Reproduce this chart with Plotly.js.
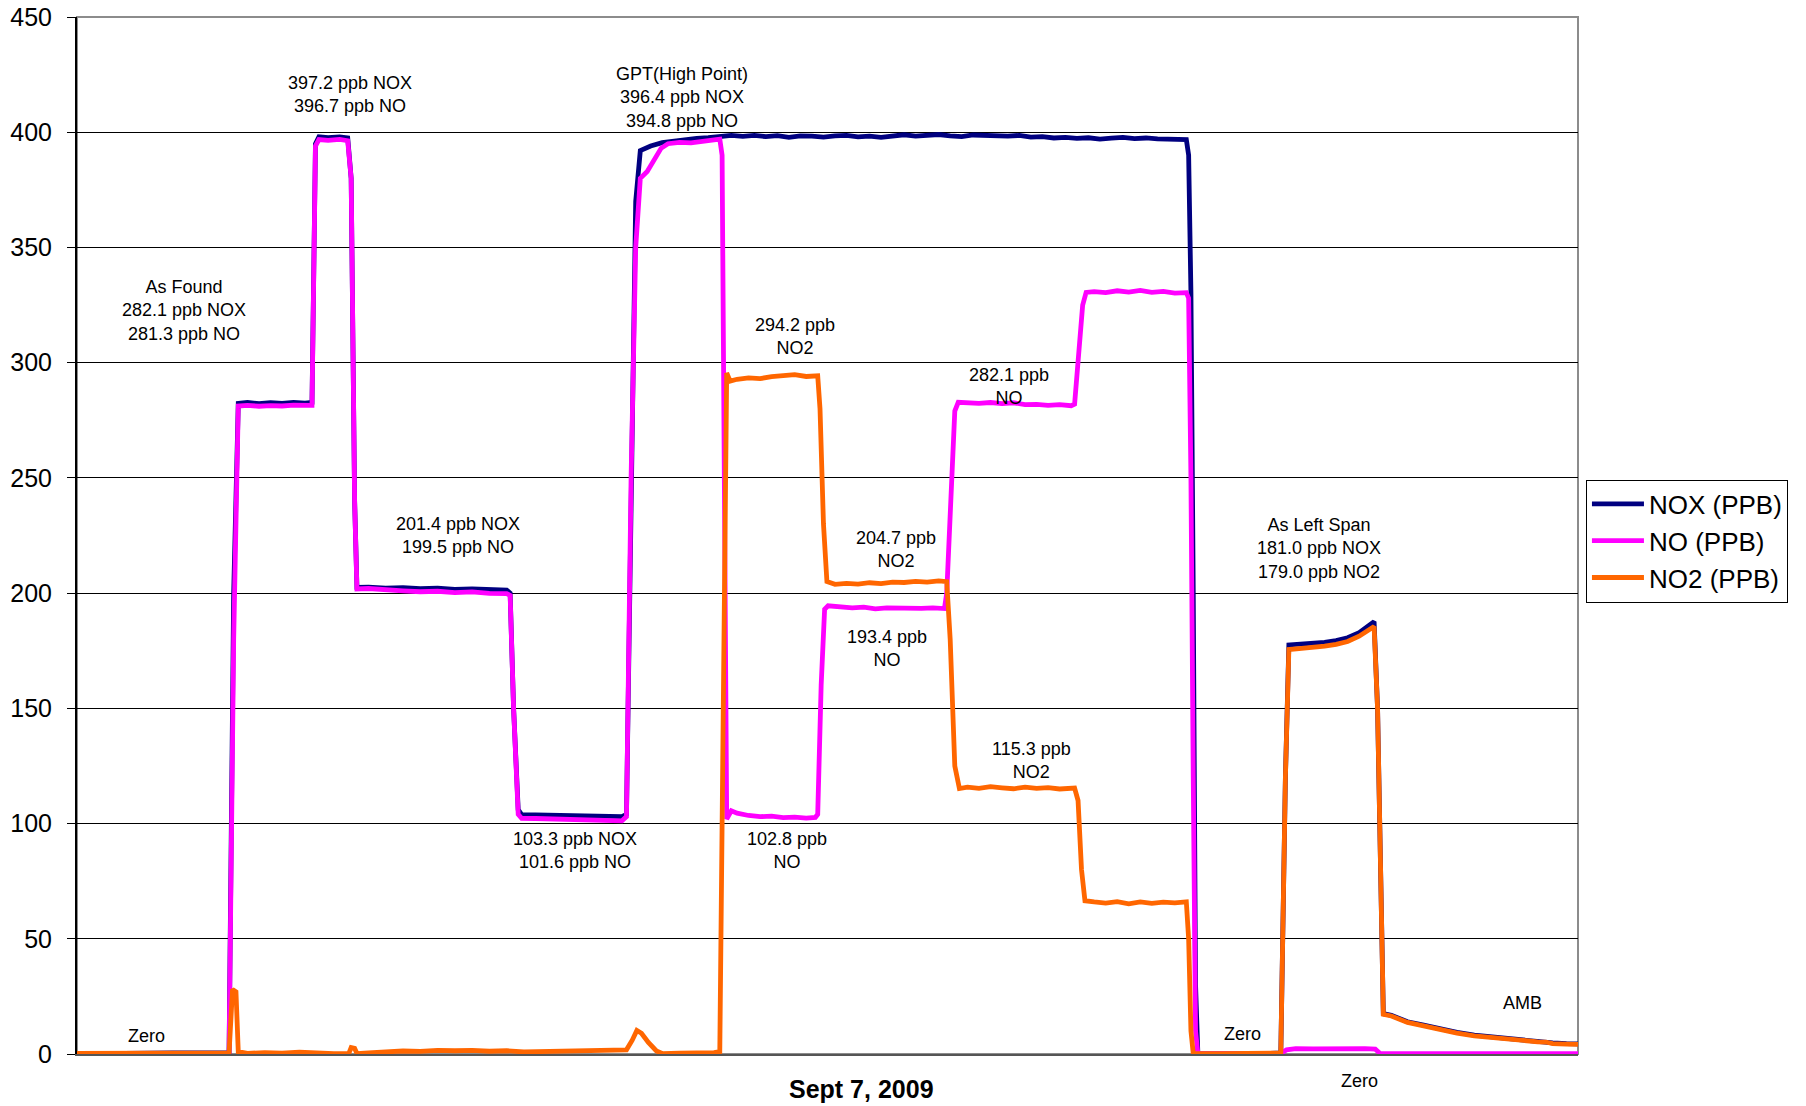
<!DOCTYPE html>
<html>
<head>
<meta charset="utf-8">
<script src="https://cdn.plot.ly/plotly-3.0.1.min.js"></script>
<style>html,body{margin:0;padding:0;background:#fff;}#chart{width:1806px;height:1106px;}</style>
</head>
<body>
<div id="chart"></div>
<script>
// Time axis in arbitrary sample units (no tick labels on the original)
const timeNOX = [67,100,150,199,203,207,215,225,235,245,255,265,271,274,277,285,295,302,305,308,310,320,335,350,365,380,395,410,425,440,443,446,450,453,465,480,495,510,525,540,544,548,552,556,565,575,585,595,605,615,625,635,645,655,665,675,685,695,705,715,725,735,745,755,765,775,785,795,805,815,825,835,845,855,865,875,885,895,905,915,925,935,945,955,965,975,985,995,1005,1015,1025,1030,1032,1033,1034,1036,1038,1040,1060,1080,1100,1112,1116,1119,1130,1140,1150,1160,1170,1180,1188,1193,1196,1199,1201,1208,1215,1222,1235,1250,1265,1280,1295,1310,1325,1335,1342,1348,1360,1370];
const noxPPB = [0,0.3,0.5,0.6,200,282.3,282.8,282.2,282.6,282.3,282.7,282.4,282.8,395,398,397.6,398,397.5,380,240,202.5,202.6,202.2,202.4,201.9,202.1,201.6,201.8,201.4,201.3,200,150,106,103.9,103.8,103.6,103.7,103.3,103.4,103,104,250,370,392,394,395.5,396.2,397,397.3,397.6,398,398.6,398.2,398.6,398.1,398.5,397.8,398.4,398.3,397.9,398.4,398.6,398,398.3,397.8,398.6,398.9,398.3,398.7,399,398.4,398.1,398.8,398.5,398.7,398.3,398.6,397.9,398.1,397.5,397.8,397.3,397.6,397,397.4,397.8,397.2,397.5,397.1,396.8,397,396.8,390,370,330,200,30,0.3,0.2,0.3,0.2,0.5,120,177.5,177.8,178,178.6,179.4,180.6,182.8,185.5,187.6,150,60,17.5,16.8,15.6,14,12.6,10.9,9.4,8.2,7.4,6.6,6,5.6,5.4,4.8,4.5,4.4];

const timeNO = [67,199,203,207,215,225,235,245,255,265,271,274,277,285,295,302,305,308,310,320,335,350,365,380,395,410,425,440,443,446,450,453,465,480,495,510,525,540,544,548,552,556,562,568,574,580,590,600,610,620,625,627,629,631,635,640,650,660,670,680,690,700,708,710,713,716,719,730,740,750,760,770,780,790,800,810,820,822,826,829,832,840,850,860,870,880,890,900,910,920,930,933,936,940,943,950,960,970,980,990,1000,1010,1020,1030,1032,1034,1036,1038,1040,1080,1112,1117,1125,1140,1155,1170,1185,1194,1198,1250,1370];
const noPPB = [0,0.3,180,281.2,281.5,281.1,281.4,281.2,281.6,281.3,281.5,394,396.8,396.5,396.9,396.3,380,240,201.8,202,201.3,201,200.6,200.8,200.2,200.5,199.9,199.8,199,150,104,102.3,102.2,102,101.8,101.6,101.5,101.2,103,250,350,380,383,388,393,395,395.6,395.4,396.2,396.6,397,390,250,102,105.5,104.5,103.5,103,103.2,102.6,102.8,102.4,102.7,104,160,193,194.5,194,193.6,193.9,193.2,193.6,193.4,193.7,193.4,193.6,193.3,200,250,279,282.8,282.5,282.3,282.7,282.2,282.6,281.8,281.9,281.5,281.8,281.3,282,300,325,330.5,330.8,330.4,331.2,330.6,331.4,330.5,330.9,330.2,330.4,328,250,120,10,0.2,0.2,0.3,1.8,2.3,2.2,2.4,2.2,2.3,2.1,0.3,0.2,0.2];

const timeNO2 = [67,120,180,199,202,205,207,215,230,245,260,275,290,303,305,308,310,320,335,350,365,380,395,410,425,440,455,470,485,500,515,530,544,549,553,557,563,570,575,590,605,620,625,628,631,634,640,650,660,670,680,690,700,710,712,715,718,725,735,745,755,765,775,785,795,805,815,822,825,829,833,840,850,860,870,880,890,900,910,920,933,936,939,942,950,960,970,980,990,1000,1010,1020,1030,1032,1034,1036,1060,1090,1112,1116,1119,1130,1140,1150,1160,1170,1180,1188,1193,1196,1199,1201,1208,1215,1222,1235,1250,1265,1280,1295,1310,1325,1335,1342,1348,1360,1370];
const no2PPB = [0.3,0.4,0.3,0.5,28,27,1,0.3,0.6,0.4,0.8,0.2,0.1,0.3,2.8,2.5,0.2,0.5,1,1.3,1.1,1.6,1.4,1.6,1.2,1.4,0.9,1,1.3,1.2,1.4,1.5,1.8,6,10.2,9,5,1.3,0.2,0.4,0.3,0.6,1,150,295.5,292,292.8,293.4,293.1,293.9,294.2,294.8,294,294.3,280,230,205,203.8,204.2,203.9,204.5,204.1,204.8,204.6,205.1,204.8,205.3,205,180,125,115.2,115.8,115.3,116,115.5,115.1,115.8,115.3,115.6,115,115.4,110,80,66.5,66,65.5,66.1,65.2,66,65.4,65.9,65.6,66,50,10,0.2,0.2,0.3,0.4,120,175.5,176,176.3,177,177.8,179,181.3,183.8,185.5,150,60,17.2,16.5,15.3,13.7,12.3,10.6,9.1,7.9,7.1,6.3,5.7,5.3,5.2,4.5,4.3,4.2];

const seriesNames = ["NOX (PPB)", "NO (PPB)", "NO2 (PPB)"];
const yTickVals = [0,50,100,150,200,250,300,350,400,450];
const yTickText = ["0","50","100","150","200","250","300","350","400","450"];
const xTitle = "Sept 7, 2009";

// Annotation texts and their anchor points (time units, ppb)
const noteText = [
  "As Found<br>282.1 ppb NOX<br>281.3 ppb NO",
  "397.2 ppb NOX<br>396.7 ppb NO",
  "GPT(High Point)<br>396.4 ppb NOX<br>394.8 ppb NO",
  "294.2 ppb<br>NO2",
  "201.4 ppb NOX<br>199.5 ppb NO",
  "282.1 ppb<br>NO",
  "204.7 ppb<br>NO2",
  "193.4 ppb<br>NO",
  "103.3 ppb NOX<br>101.6 ppb NO",
  "102.8 ppb<br>NO",
  "115.3 ppb<br>NO2",
  "As Left Span<br>181.0 ppb NOX<br>179.0 ppb NO2",
  "Zero",
  "Zero",
  "AMB"
];
const noteTime = [160,304,592,690,398,876,778,770,499,683,896,1145,127,1079,1322];
const notePPB = [322.5,416.2,415,311.5,224.8,289.8,219,175.8,88.2,88.2,127.2,219.5,8,8.5,22];

const FONT = "Arial, 'Liberation Sans', sans-serif";
const colors = ["#000080", "#FF00FF", "#FF6600"];

const traces = [
  {x: timeNOX, y: noxPPB, name: seriesNames[0]},
  {x: timeNO, y: noPPB, name: seriesNames[1]},
  {x: timeNO2, y: no2PPB, name: seriesNames[2]}
].map((t, i) => Object.assign(t, {
  type: "scatter", mode: "lines",
  line: {color: colors[i], width: 4.8, shape: "linear"},
  hoverinfo: "skip"
}));

const annotations = noteText.map((t, i) => ({
  x: noteTime[i], y: notePPB[i], xref: "x", yref: "y",
  text: t, showarrow: false, xanchor: "center", yanchor: "middle",
  font: {family: FONT, size: 18, color: "#000"}
}));
annotations.push({
  x: 1180, y: -0.026, xref: "x", yref: "paper", text: "Zero",
  showarrow: false, xanchor: "center", yanchor: "middle",
  font: {family: FONT, size: 18, color: "#000"}
});
annotations.push({
  x: 748, y: -0.0335, xref: "x", yref: "paper", text: "<b>" + xTitle + "</b>",
  showarrow: false, xanchor: "center", yanchor: "middle",
  font: {family: FONT, size: 25, color: "#000"}
});

const layout = {
  width: 1806, height: 1106,
  margin: {l: 77, r: 228, t: 17, b: 52},
  paper_bgcolor: "#fff", plot_bgcolor: "#fff",
  font: {family: FONT, color: "#000"},
  showlegend: true,
  legend: {
    x: 1.0053, y: 0.554, xanchor: "left", yanchor: "top",
    bordercolor: "#000", borderwidth: 1, bgcolor: "#fff",
    font: {family: FONT, size: 26, color: "#000"},
    itemwidth: 52,
    tracegroupgap: 0
  },
  xaxis: {
    range: [67, 1370], showgrid: false, zeroline: false,
    showticklabels: false, ticks: "",
    showline: true, linecolor: "#555", linewidth: 2
  },
  yaxis: {
    range: [0, 450], tickmode: "array", tickvals: yTickVals, ticktext: yTickText,
    showgrid: true, gridcolor: "#000", gridwidth: 1, zeroline: false,
    showline: true, linecolor: "#000", linewidth: 2,
    ticks: "outside", ticklen: 8, tickcolor: "#000", tickwidth: 1,
    ticklabelstandoff: 10,
    tickfont: {family: FONT, size: 25, color: "#000"}
  },
  shapes: [{
    type: "rect", xref: "paper", yref: "paper", x0: 0, x1: 1, y0: 0, y1: 1,
    line: {color: "#8c8c8c", width: 2}, layer: "below"
  }],
  annotations: annotations
};

Plotly.newPlot("chart", traces, layout, {staticPlot: true, displayModeBar: false});
</script>
</body>
</html>
